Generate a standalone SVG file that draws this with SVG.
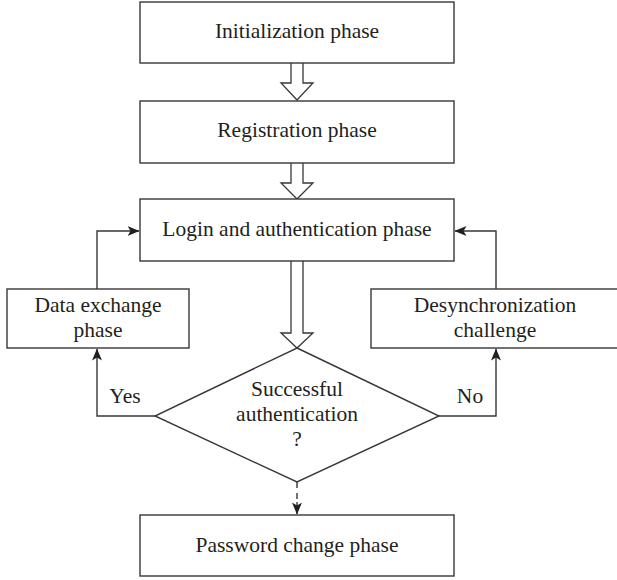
<svg xmlns="http://www.w3.org/2000/svg" width="617" height="580" viewBox="0 0 617 580">
  <style>
    .box { fill: #ffffff; stroke: #3a3637; stroke-width: 1.4; }
    .block { fill: #ffffff; stroke: #3a3637; stroke-width: 1.3; stroke-linejoin: miter; }
    .line { fill: none; stroke: #3a3637; stroke-width: 1.4; }
    .dash { fill: none; stroke: #3a3637; stroke-width: 1.4; stroke-dasharray: 6 5; }
    text { font-family: "Liberation Serif", "DejaVu Serif", serif; font-size: 21.5px; fill: #231f20; text-anchor: middle; }
  </style>
  <defs>
    <marker id="head" viewBox="0 0 12 10" refX="11.5" refY="5" markerWidth="12" markerHeight="10" markerUnits="userSpaceOnUse" orient="auto">
      <path d="M0,0 L12,5 L0,10 L3,5 Z" fill="#231f20"/>
    </marker>
  </defs>

  <g id="connectors">
    <!-- hollow block arrows down the main flow -->
    <path class="block" d="M291,63 V83 H281 L297,100 L313,83 H303 V63"/>
    <path class="block" d="M291,163 V183 H281 L297,199 L313,183 H303 V163"/>
    <path class="block" d="M291,261 V333 H281 L297,348 L313,333 H303 V261"/>
    <!-- Yes branch -->
    <path class="line" d="M155,416 H97 V349" marker-end="url(#head)"/>
    <path class="line" d="M97,289 V231 H139" marker-end="url(#head)"/>
    <!-- No branch -->
    <path class="line" d="M439,416 H496 V349" marker-end="url(#head)"/>
    <path class="line" d="M496,289 V231 H455" marker-end="url(#head)"/>
    <!-- to password change -->
    <path class="dash" d="M297,482 V502"/>
    <path class="line" d="M297,502 V514" marker-end="url(#head)"/>
    <text x="125" y="403">Yes</text>
    <text x="470" y="403">No</text>
  </g>

  <g id="init">
    <rect class="box" x="140" y="2" width="314" height="61"/>
    <text x="297" y="38">Initialization phase</text>
  </g>
  <g id="registration">
    <rect class="box" x="140" y="101" width="314" height="62"/>
    <text x="297" y="137">Registration phase</text>
  </g>
  <g id="login">
    <rect class="box" x="140" y="199" width="314" height="62"/>
    <text x="297" y="236">Login and authentication phase</text>
  </g>
  <g id="data-exchange">
    <rect class="box" x="7" y="289" width="182" height="59"/>
    <text x="98" y="312">Data exchange</text>
    <text x="98" y="337">phase</text>
  </g>
  <g id="desync">
    <rect class="box" x="371" y="289" width="250" height="59"/>
    <text x="495" y="312">Desynchronization</text>
    <text x="495" y="337">challenge</text>
  </g>
  <g id="decision">
    <polygon class="box" points="297,348 439,416 297,482 155,416"/>
    <text x="297" y="396">Successful</text>
    <text x="297" y="421">authentication</text>
    <text x="297" y="446">?</text>
  </g>
  <g id="password-change">
    <rect class="box" x="140" y="515" width="314" height="61"/>
    <text x="297" y="552">Password change phase</text>
  </g>
</svg>
